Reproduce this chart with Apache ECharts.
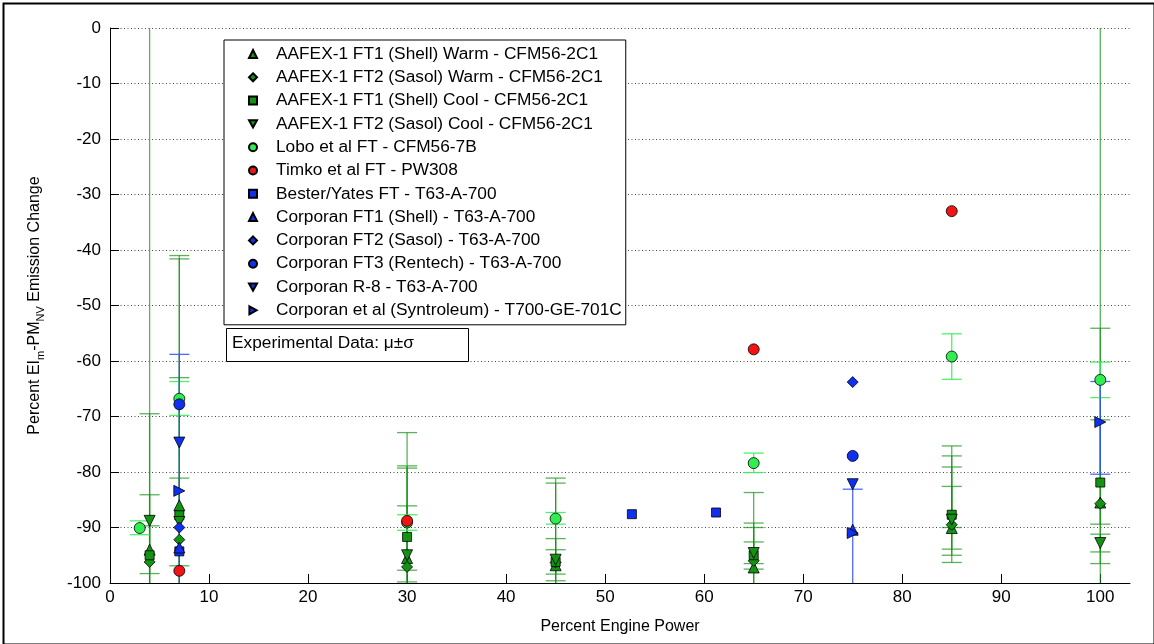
<!DOCTYPE html>
<html>
<head>
<meta charset="utf-8">
<script src="https://cdn.jsdelivr.net/npm/echarts@6/dist/echarts.min.js"></script>
<style>html,body{margin:0;padding:0;background:#fff;}#c{width:1154px;height:644px;}</style>
</head>
<body>
<div id="c"></div>
<script>
// ---------------- data ----------------
const xTicks = [0, 10, 20, 30, 40, 50, 60, 70, 80, 90, 100];
const yTicks = [-100, -90, -80, -70, -60, -50, -40, -30, -20, -10, 0];

const powerAAFEX = [4, 7, 30, 45, 65, 85, 100];
const aafexFT1Warm   = [-94, -86, -95.5, -96.8, -97.2, -90.1, -85.5];
const aafexFT1WarmLo = [-98.3, -131, -111, -112, -110, -96.3, -96.5];
const aafexFT1WarmHi = [-89.7, -41, -79.3, -81.1, -83.7, -82.6, -54.1];
const aafexFT2Warm   = [-96.2, -92.2, -97.1, -96.3, -96, -89.5, -85.7];
const aafexFT2WarmLo = [-108, -143, -121, -111, -103, -95, -180];
const aafexFT2WarmHi = [-84.1, -41.6, -72.9, -82, -89.2, -79.1, 10];
const aafexFT1Cool   = [-95, -87.8, -91.7, -96.2, -95, -87.7, -81.9];
const aafexFT1CoolLo = [-120, -112, -97.7, -98.4, -97.5, -93.9, -89.4];
const aafexFT1CoolHi = [-69.5, -63, -86.1, -94, -90, -77.1, -70.6];
const aafexFT2Cool   = [-88.8, -89, -95, -95.8, -94.6, -88.6, -92.8];
const aafexFT2CoolLo = [-180, -96.9, -99.8, -99.6, -96.5, -90, -94.4];
const aafexFT2CoolHi = [10, -81.1, -78.9, -92, -92.6, -75.3, -91.2];

const powerLobo = [3, 7, 30, 45, 65, 85, 100];
const lobo   = [-90.1, -66.8, -89.1, -88.4, -78.4, -59.2, -63.4];
const loboLo = [-91.3, -69.8, -90.5, -89.4, -80.1, -63.3, -66.6];
const loboHi = [-88.8, -63.7, -87.7, -87.3, -76.6, -55.1, -60.2];

const powerTimko = [7, 30, 65, 85];
const timko = [-97.8, -88.8, -57.9, -33];

const powerBester = [7, 52.7, 61.2];
const bester = [-94.3, -87.6, -87.3];

const powerCorporan = [7, 75];
const corpFT1 = [-93.6, -90.4];
const corpFT2 = [-90, -63.8];
const corpFT3 = [-67.8, -77.1];
const corpR8   = [-74.7, -82.2];
const corpR8Lo = [-110, null];
const corpR8Hi = [-58.8, null];

const powerSyntroleum = [7, 75, 100];
const syntroleum   = [-83.4, -91, -71];
const syntroleumLo = [null, -101, -80.4];
const syntroleumHi = [null, -83.1, -63.7];

const seriesNames = [
  'AAFEX-1 FT1 (Shell) Warm - CFM56-2C1',
  'AAFEX-1 FT2 (Sasol) Warm - CFM56-2C1',
  'AAFEX-1 FT1 (Shell) Cool - CFM56-2C1',
  'AAFEX-1 FT2 (Sasol) Cool - CFM56-2C1',
  'Lobo et al FT - CFM56-7B',
  'Timko et al FT - PW308',
  'Bester/Yates FT - T63-A-700',
  'Corporan FT1 (Shell) - T63-A-700',
  'Corporan FT2 (Sasol) - T63-A-700',
  'Corporan FT3 (Rentech) - T63-A-700',
  'Corporan R-8 - T63-A-700',
  'Corporan et al (Syntroleum) - T700-GE-701C'
];

// ---------------- helpers ----------------
function pts(xs, ys) { return xs.map((x, i) => [x, ys[i]]); }
function errs(xs, lo, hi) {
  const out = [];
  xs.forEach((x, i) => { if (lo[i] != null) out.push([x, lo[i], hi[i]]); });
  return out;
}

const FONT = 'Liberation Sans, Arial, Helvetica, sans-serif';
const DKGREEN = '#139313';
const LTGREEN = '#30ee50';
const RED = '#f01414';
const BLUE = '#1030f0';
const TRI_DOWN = 'path://M0,0 L10,0 L5,9 Z';
const TRI_RIGHT = 'path://M0,0 L9,5 L0,10 Z';

function errRender(color, opacity, width) {
  return function (params, api) {
    const x = api.value(0), lo = api.value(1), hi = api.value(2);
    const cs = params.coordSys;
    const top = cs.y, bot = cs.y + cs.height;
    const pH = api.coord([x, hi]);
    const pL = api.coord([x, lo]);
    const yTop = Math.max(pH[1], top), yBot = Math.min(pL[1], bot);
    const hw = 10;
    const st = { stroke: color, lineWidth: width, opacity: opacity };
    const children = [{ type: 'line', shape: { x1: pH[0], y1: yTop, x2: pH[0], y2: yBot }, style: st }];
    if (pH[1] >= top - 0.5) children.push({ type: 'line', shape: { x1: pH[0] - hw, y1: pH[1], x2: pH[0] + hw, y2: pH[1] }, style: st });
    if (pL[1] <= bot + 0.5) children.push({ type: 'line', shape: { x1: pL[0] - hw, y1: pL[1], x2: pL[0] + hw, y2: pL[1] }, style: st });
    return { type: 'group', children: children };
  };
}

function errSeries(id, data, color, opacity, width) {
  return {
    type: 'custom', name: 'err-' + id, data: data, silent: true,
    encode: { x: 0, y: 1 },
    renderItem: errRender(color, opacity, width)
  };
}

function scat(name, data, symbol, size, color) {
  return {
    type: 'scatter', name: name, data: data, symbol: symbol, symbolSize: size,
    itemStyle: { color: color, borderColor: '#000', borderWidth: 0.8, opacity: 1 },
    emphasis: { disabled: true }
  };
}

const series = [
  errSeries('a1', errs(powerAAFEX, aafexFT1WarmLo, aafexFT1WarmHi), DKGREEN, 0.7, 1.3),
  errSeries('a2', errs(powerAAFEX, aafexFT2WarmLo, aafexFT2WarmHi), DKGREEN, 0.7, 1.3),
  errSeries('a3', errs(powerAAFEX, aafexFT1CoolLo, aafexFT1CoolHi), DKGREEN, 0.7, 1.3),
  errSeries('a4', errs(powerAAFEX, aafexFT2CoolLo, aafexFT2CoolHi), DKGREEN, 0.7, 1.3),
  errSeries('lobo', errs(powerLobo, loboLo, loboHi), LTGREEN, 0.85, 1.3),
  errSeries('r8', errs(powerCorporan, corpR8Lo, corpR8Hi), '#3050ff', 0.85, 1.3),
  errSeries('syn', errs(powerSyntroleum, syntroleumLo, syntroleumHi), '#3050ff', 0.85, 1.3),

  scat(seriesNames[0], pts(powerAAFEX, aafexFT1Warm), 'triangle', 11, DKGREEN),
  scat(seriesNames[1], pts(powerAAFEX, aafexFT2Warm), 'diamond', 11, DKGREEN),
  scat(seriesNames[2], pts(powerAAFEX, aafexFT1Cool), 'rect', 9, DKGREEN),
  scat(seriesNames[3], pts(powerAAFEX, aafexFT2Cool), TRI_DOWN, 11, DKGREEN),
  scat(seriesNames[4], pts(powerLobo, lobo), 'circle', 11, LTGREEN),
  scat(seriesNames[5], pts(powerTimko, timko), 'circle', 11, RED),
  scat(seriesNames[6], pts(powerBester, bester), 'rect', 9, BLUE),
  scat(seriesNames[7], pts(powerCorporan, corpFT1), 'triangle', 11, BLUE),
  scat(seriesNames[8], pts(powerCorporan, corpFT2), 'diamond', 11, BLUE),
  scat(seriesNames[9], pts(powerCorporan, corpFT3), 'circle', 11, BLUE),
  scat(seriesNames[10], pts(powerCorporan, corpR8), TRI_DOWN, 11, BLUE),
  scat(seriesNames[11], pts(powerSyntroleum, syntroleum), TRI_RIGHT, 11, BLUE)
];

const chart = echarts.init(document.getElementById('c'), null, { renderer: 'canvas' });
chart.setOption({
  animation: false,
  backgroundColor: '#fff',
  textStyle: { fontFamily: FONT },
  grid: { left: 110, right: 24, top: 28, bottom: 61, containLabel: false },
  xAxis: {
    type: 'value', min: 0, max: 103,
    name: 'Percent Engine Power', nameLocation: 'middle', nameGap: 36,
    nameTextStyle: { fontSize: 16, color: '#000', fontFamily: FONT },
    axisLine: { show: true, onZero: false, lineStyle: { color: '#000', width: 1 } },
    axisTick: { show: true, inside: true, length: 9, customValues: xTicks, lineStyle: { color: '#000' } },
    axisLabel: { customValues: xTicks, fontSize: 17, color: '#000', margin: 6, fontFamily: FONT },
    splitLine: { show: false }
  },
  yAxis: {
    type: 'value', min: -100, max: 0, interval: 10,
    name: '{n|Percent EI}{s|m}{n|-PM}{s|NV}{n| Emission Change}',
    nameLocation: 'middle', nameGap: 64, nameRotate: 90,
    nameTextStyle: {
      color: '#000', fontFamily: FONT,
      rich: {
        n: { fontSize: 16, lineHeight: 22, fontFamily: FONT, color: '#000' },
        s: { fontSize: 11, lineHeight: 11, verticalAlign: 'bottom', fontFamily: FONT, color: '#000' }
      }
    },
    axisLine: { show: true, onZero: false, lineStyle: { color: '#000', width: 1 } },
    axisTick: { show: true, inside: true, length: 9, lineStyle: { color: '#000' } },
    axisLabel: { fontSize: 17, color: '#000', margin: 9, fontFamily: FONT, customValues: yTicks },
    splitLine: { show: true, lineStyle: { color: '#444', type: [1, 2.5], width: 1 } }
  },
  legend: {
    data: seriesNames,
    orient: 'vertical', left: 224, top: 40,
    backgroundColor: '#fff', borderColor: '#000', borderWidth: 1, borderRadius: 0,
    padding: [4.5, 4, 5, 24],
    itemWidth: 8, itemHeight: 8, itemGap: 4.3,
    selectedMode: false,
    textStyle: { fontSize: 17.3, color: '#000', fontFamily: FONT, lineHeight: 19, padding: [0, 0, 0, 14] }
  },
  graphic: [
    { type: 'rect', left: 1, top: 1, shape: { width: 1151, height: 641 }, style: { fill: null, stroke: '#000', lineWidth: 2 }, silent: true, z: 100 },
    { type: 'rect', left: 226, top: 328, shape: { width: 242, height: 33 }, style: { fill: '#fff', stroke: '#000', lineWidth: 1 }, z: 90 },
    { type: 'text', left: 232, top: 335, style: { text: 'Experimental Data: μ±σ', font: '17.3px ' + FONT, fill: '#000' }, z: 91 }
  ],
  series: series
});
</script>
</body>
</html>
